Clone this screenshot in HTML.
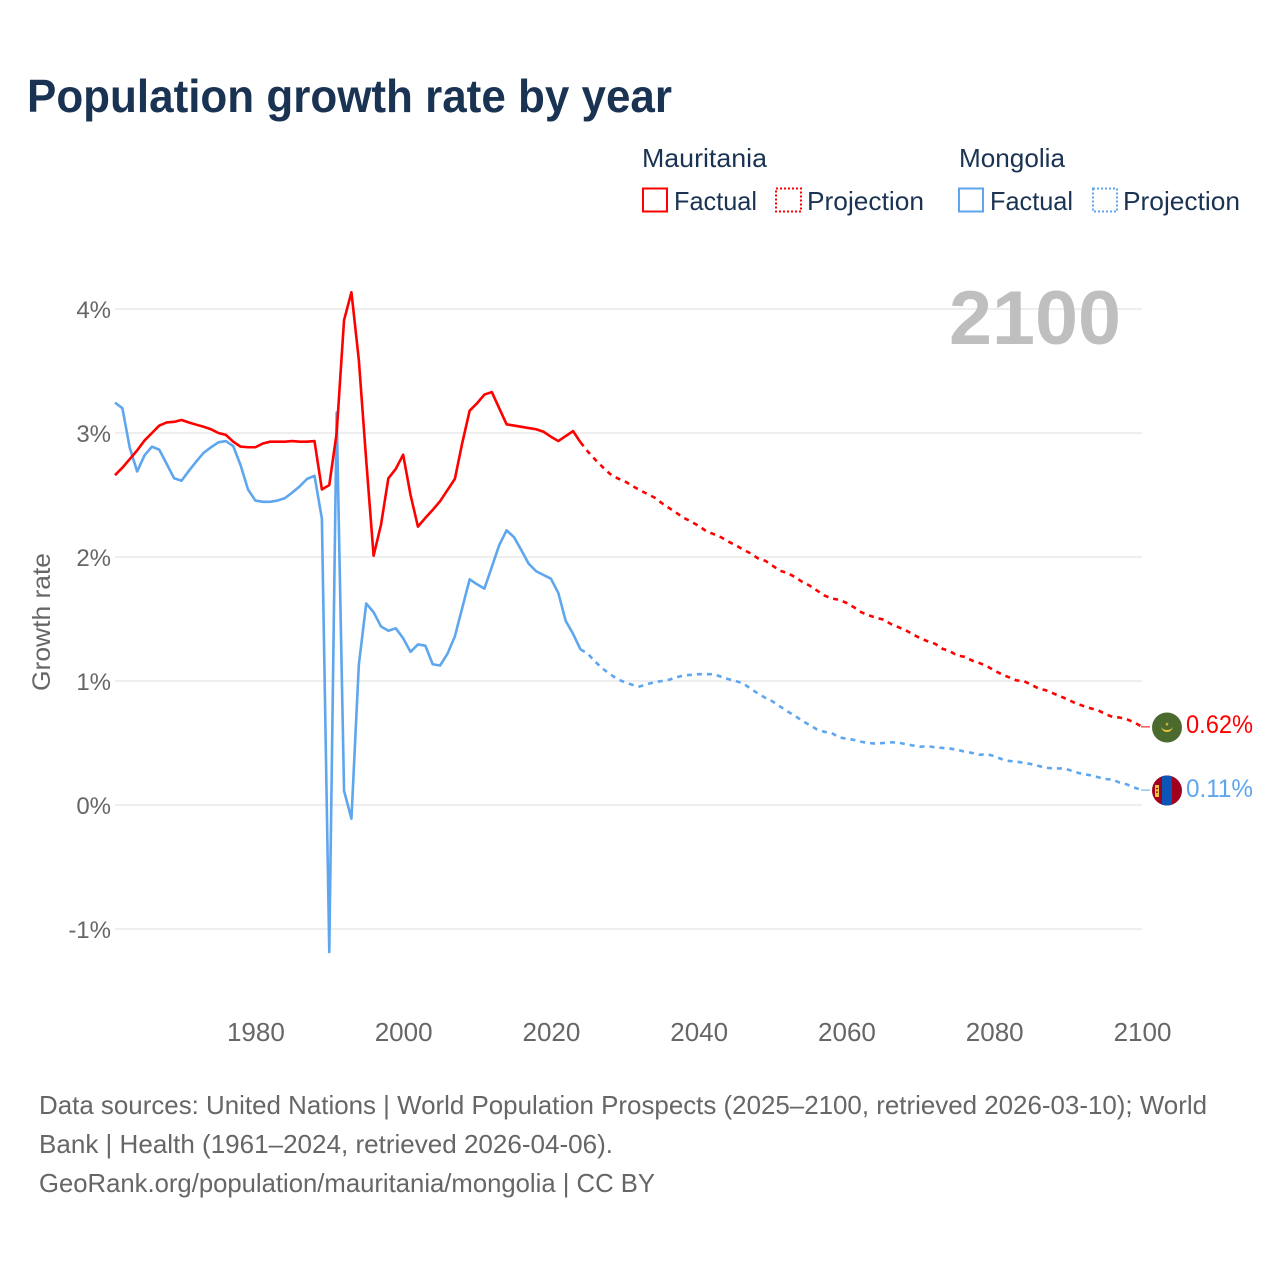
<!DOCTYPE html>
<html lang="en">
<head>
<meta charset="utf-8">
<title>Population growth rate by year</title>
<style>
html,body{margin:0;padding:0;background:#fff;}
svg{display:block;font-family:"Liberation Sans",sans-serif;}
</style>
</head>
<body>
<svg id="chart" width="1280" height="1280" viewBox="0 0 1280 1280">
<defs>
<clipPath id="clip-mr"><circle cx="1167" cy="727.5" r="15"/></clipPath>
<clipPath id="clip-mn"><circle cx="1167" cy="790.5" r="15"/></clipPath>
</defs>
<rect width="1280" height="1280" fill="#fff"/>
<text x="27" y="112" font-size="46" font-weight="700" fill="#1a3353" textLength="645" lengthAdjust="spacingAndGlyphs">Population growth rate by year</text>

<g font-size="26" fill="#1a3353">
<text x="642" y="167" textLength="125" lengthAdjust="spacingAndGlyphs">Mauritania</text>
<text x="959" y="167" textLength="106" lengthAdjust="spacingAndGlyphs">Mongolia</text>
<rect x="643" y="188.5" width="24" height="23" fill="none" stroke="#ff0000" stroke-width="2"/>
<text x="674" y="210" textLength="83" lengthAdjust="spacingAndGlyphs">Factual</text>
<rect x="776" y="188.5" width="25" height="23" fill="none" stroke="#ff0000" stroke-width="2" stroke-dasharray="2 2"/>
<text x="807" y="210" textLength="117" lengthAdjust="spacingAndGlyphs">Projection</text>
<rect x="959" y="188.5" width="24" height="23" fill="none" stroke="#5ea6ee" stroke-width="2"/>
<text x="990" y="210" textLength="83" lengthAdjust="spacingAndGlyphs">Factual</text>
<rect x="1093" y="188.5" width="24" height="23" fill="none" stroke="#5ea6ee" stroke-width="2" stroke-dasharray="2 2"/>
<text x="1123" y="210" textLength="117" lengthAdjust="spacingAndGlyphs">Projection</text>
</g>

<g id="grid"></g>
<text x="1121" y="344" text-anchor="end" font-size="76" font-weight="700" fill="#bfbfbf" textLength="172" lengthAdjust="spacingAndGlyphs">2100</text>
<g id="yticks" font-size="24" fill="#666666"></g>
<g id="xticks" font-size="26" fill="#666666"></g>
<text transform="translate(50,622) rotate(-90)" text-anchor="middle" font-size="25" fill="#666666" textLength="138" lengthAdjust="spacingAndGlyphs">Growth rate</text>
<g id="series"></g>

<g>
<g clip-path="url(#clip-mr)">
<rect x="1152" y="712" width="30" height="31" fill="#4a6b2d"/>
<path d="M1161 726 a6 6 0 0 0 12 0 a6 4 0 0 1 -12 0z" fill="#e8c53a"/>
<path d="M1167 722.2 l.5 1.3 1.3 .1 -1 .9 .4 1.3 -1.2 -.7 -1.2 .7 .4 -1.3 -1 -.9 1.3 -.1z" fill="#e8c53a"/>
</g>
</g>
<g>
<g clip-path="url(#clip-mn)">
<rect x="1152" y="775" width="30" height="31" fill="#a0001e"/>
<rect x="1162" y="775" width="10" height="31" fill="#0a55b5"/>
<rect x="1155" y="785" width="4" height="12" fill="#e8c53a"/>
<rect x="1156" y="788" width="2" height="1.2" fill="#a0001e"/>
<rect x="1156" y="791.5" width="2" height="1.2" fill="#a0001e"/>
</g>
</g>
<text x="1186" y="733" font-size="25" fill="#ff0000" textLength="67" lengthAdjust="spacingAndGlyphs">0.62%</text>
<text x="1186" y="797" font-size="25" fill="#5ea6ee" textLength="67" lengthAdjust="spacingAndGlyphs">0.11%</text>

<g font-size="26" fill="#666666">
<text x="39" y="1114" textLength="1168" lengthAdjust="spacingAndGlyphs">Data sources: United Nations | World Population Prospects (2025–2100, retrieved 2026-03-10); World</text>
<text x="39" y="1153" textLength="574" lengthAdjust="spacingAndGlyphs">Bank | Health (1961–2024, retrieved 2026-04-06).</text>
<text x="39" y="1192" textLength="616" lengthAdjust="spacingAndGlyphs">GeoRank.org/population/mauritania/mongolia | CC BY</text>
</g>
</svg>
<script>
const firstFactualYear = 1961;
const firstProjectionYear = 2024;
const yTickValues = [-1, 0, 1, 2, 3, 4];
const xTickYears = [1980, 2000, 2020, 2040, 2060, 2080, 2100];
const mauritaniaFactual = [
  2.66,2.72,2.79,2.86,2.94,3.0,3.06,3.085,3.09,3.105,
  3.085,3.067,3.05,3.03,3.0,2.985,2.93,2.89,2.885,2.885,
  2.915,2.93,2.93,2.93,2.935,2.93,2.93,2.935,2.545,2.58,
  3.0,3.91,4.135,3.59,2.78,2.01,2.26,2.635,2.71,2.825,
  2.5,2.245,2.315,2.38,2.45,2.54,2.63,2.92,3.18,3.24,
  3.31,3.33,3.2,3.07,3.06,3.05,3.04,3.03,3.01,2.97,
  2.935,2.975,3.015,2.925
];
const mongoliaFactual = [
  3.245,3.2,2.88,2.69,2.82,2.89,2.865,2.75,2.635,2.615,
  2.695,2.77,2.84,2.885,2.925,2.935,2.895,2.74,2.545,2.455,
  2.445,2.445,2.455,2.475,2.52,2.57,2.63,2.655,2.31,-1.185,
  3.165,0.115,-0.11,1.13,1.625,1.555,1.44,1.405,1.425,1.345,
  1.235,1.295,1.285,1.135,1.125,1.22,1.36,1.59,1.82,1.78,
  1.745,1.92,2.095,2.215,2.16,2.055,1.945,1.885,1.855,1.825,
  1.71,1.485,1.38,1.255
];
const mauritaniaProjection = [
  2.925,2.85,2.785,2.725,2.67,2.635,2.61,2.575,2.54,2.51,2.48,
  2.435,2.395,2.355,2.315,2.285,2.25,2.21,2.185,2.16,2.125,
  2.095,2.06,2.03,1.99,1.97,1.93,1.89,1.87,1.84,1.80,
  1.77,1.73,1.69,1.665,1.655,1.63,1.595,1.555,1.53,1.51,
  1.495,1.46,1.435,1.41,1.375,1.345,1.32,1.30,1.26,1.24,
  1.205,1.195,1.165,1.145,1.12,1.085,1.055,1.03,1.005,1.0,
  0.97,0.94,0.925,0.90,0.875,0.85,0.82,0.80,0.78,0.765,
  0.735,0.71,0.705,0.69,0.665,0.63
];
const mongoliaProjection = [
  1.255,1.22,1.155,1.10,1.055,1.015,0.99,0.97,0.955,0.975,0.99,
  1.0,1.01,1.03,1.045,1.05,1.055,1.055,1.055,1.035,1.015,
  1.0,0.98,0.94,0.90,0.865,0.835,0.795,0.755,0.72,0.68,
  0.645,0.61,0.59,0.58,0.545,0.535,0.525,0.51,0.50,0.495,
  0.50,0.505,0.505,0.49,0.48,0.47,0.475,0.465,0.46,0.455,
  0.445,0.43,0.42,0.405,0.41,0.395,0.37,0.355,0.35,0.34,
  0.33,0.315,0.30,0.295,0.295,0.285,0.265,0.25,0.24,0.225,
  0.21,0.205,0.18,0.165,0.14,0.12
];

const SVG_NS = 'http://www.w3.org/2000/svg';
const plotLeft = 115, plotRight = 1142;
function xScale(year) { return plotLeft + (year - 1961) * (plotRight - plotLeft) / 139; }
function yScale(v) { return 805 - v * 124; }
function pointsFor(values, startYear) {
  return values.map(function (v, i) { return xScale(startYear + i).toFixed(2) + ',' + yScale(v).toFixed(2); }).join(' ');
}
function make(tag, attrs, parent) {
  const el = document.createElementNS(SVG_NS, tag);
  Object.keys(attrs).forEach(function (k) { el.setAttribute(k, attrs[k]); });
  parent.appendChild(el);
  return el;
}
const gridG = document.getElementById('grid');
const yG = document.getElementById('yticks');
const xG = document.getElementById('xticks');
const seriesG = document.getElementById('series');

yTickValues.forEach(function (v) {
  const line = make('line', {x1: plotLeft, x2: plotRight, y1: yScale(v), y2: yScale(v), stroke: '#e9e9e9', 'stroke-width': 1.5}, gridG);
  
  
  const t = make('text', {x: 111, y: yScale(v) + 9, 'text-anchor': 'end'}, yG);
  t.textContent = v + '%';
  
  
});
xTickYears.forEach(function (yr) {
  const t = make('text', {x: xScale(yr) + 0.5, y: 1041, 'text-anchor': 'middle'}, xG);
  t.textContent = String(yr);
  
  
});

function drawSeries(values, startYear, color, dashed, name) {
  const attrs = {points: pointsFor(values, startYear), fill: 'none', stroke: color, 'stroke-width': 2.6, 'stroke-linejoin': 'round'};
  if (dashed) attrs['stroke-dasharray'] = '5 5';
  const el = make('polyline', attrs, seriesG);
  
  
}
drawSeries(mongoliaFactual, firstFactualYear, '#5ea6ee', false, 'mongolia-factual-line');
drawSeries(mongoliaProjection, firstProjectionYear, '#5ea6ee', true, 'mongolia-projection-line');
drawSeries(mauritaniaFactual, firstFactualYear, '#ff0000', false, 'mauritania-factual-line');
drawSeries(mauritaniaProjection, firstProjectionYear, '#ff0000', true, 'mauritania-projection-line');

function drawConnector(values, color, name) {
  const yEnd = yScale(values[values.length - 1]);
  const el = make('line', {x1: xScale(2100) - 1, x2: 1150, y1: yEnd, y2: yEnd, stroke: color, 'stroke-width': 1}, seriesG);
  
  
}
drawConnector(mauritaniaProjection, '#ff0000', 'mauritania-flag-connector');
drawConnector(mongoliaProjection, '#5ea6ee', 'mongolia-flag-connector');
</script>
</body>
</html>
